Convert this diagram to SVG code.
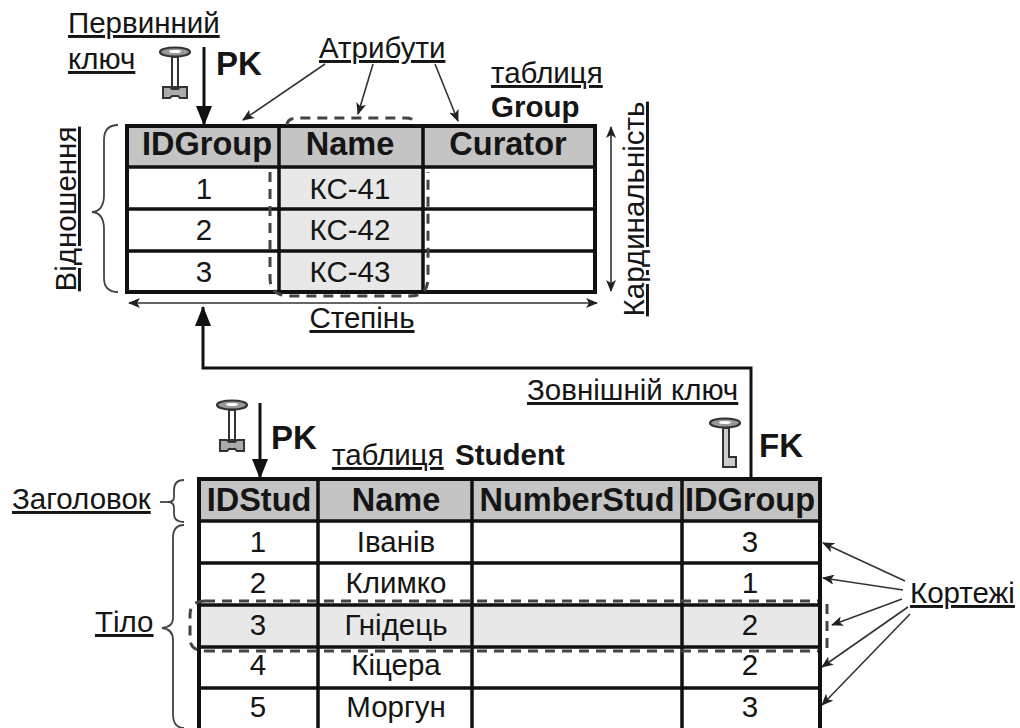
<svg xmlns="http://www.w3.org/2000/svg" width="1020" height="728" viewBox="0 0 1020 728">
<style>
text{font-family:"Liberation Sans",Arial,sans-serif;fill:#151515;font-size:29.5px}
.c{text-anchor:middle}
.b{font-weight:bold}
.h{font-weight:bold;font-size:32.5px;text-anchor:middle}
.pk{font-weight:bold;font-size:33px}
.u{text-decoration:underline}
.grid{fill:none;stroke:#111;stroke-width:3.5}
.outer{fill:none;stroke:#111;stroke-width:4}
.dash{fill:none;stroke:#444;stroke-width:3;stroke-dasharray:10 7}
.brace{fill:none;stroke:#444;stroke-width:1.8}
.arrow{fill:none;stroke:#333;stroke-width:1.6;marker-end:url(#open)}
.both{fill:none;stroke:#333;stroke-width:1.6;marker-end:url(#open);marker-start:url(#openS)}
.thick{fill:none;stroke:#111;stroke-width:3;marker-end:url(#solid)}
</style>
<defs>
<marker id="open" viewBox="0 0 12 10" refX="11" refY="5" markerWidth="12" markerHeight="10" markerUnits="userSpaceOnUse" orient="auto"><path d="M0 0L12 5L0 10L3 5Z" fill="#222"/></marker>
<marker id="openS" viewBox="0 0 12 10" refX="1" refY="5" markerWidth="12" markerHeight="10" markerUnits="userSpaceOnUse" orient="auto"><path d="M12 0L0 5L12 10L9 5Z" fill="#222"/></marker>
<marker id="solid" viewBox="0 0 20 16" refX="19" refY="8" markerWidth="20" markerHeight="16" markerUnits="userSpaceOnUse" orient="auto"><path d="M0 0L20 8L0 16Z" fill="#111"/></marker>
<symbol id="k1" viewBox="0 0 34 56" width="34" height="56" overflow="visible">
<ellipse cx="17" cy="6" rx="15" ry="4.5" fill="#999" stroke="#333" stroke-width="2.2"/>
<ellipse cx="17" cy="5.5" rx="6" ry="1.6" fill="#fff"/>
<path d="M14 11H20V41H14Z" fill="#fff" stroke="#333" stroke-width="2"/>
<path d="M5 41H12L14 43H20L22 41H29V52H22L20 50H14L12 52H5Z" fill="#aaa" stroke="#333" stroke-width="2"/>
</symbol>
</defs>

<g id="connectors">
<path class="thick" d="M204 47V125"/>
<path class="arrow" d="M325 64L243 120"/>
<path class="arrow" d="M373 64L358 114"/>
<path class="arrow" d="M435 64L458 121"/>
<path class="both" d="M611 127V291"/>
<path class="both" d="M129 303H597"/>
<path class="thick" d="M751 478V368H203V307"/>
<path class="thick" d="M260 403V478"/>
<path class="arrow" d="M905 581L823 543"/>
<path class="arrow" d="M903 590L823 578"/>
<path class="arrow" d="M902 599L832 625"/>
<path class="arrow" d="M908 607L822 667"/>
<path class="arrow" d="M910 614L822 705"/>
</g>

<g id="table-group">
<rect x="127" y="126" width="468" height="41" fill="#c4c4c4"/>
<rect x="279" y="167" width="144" height="125" fill="#e8e8e8"/>
<path class="grid" d="M127 167H595M127 209H595M127 251H595M279 126V292M423 126V292"/>
<rect class="outer" x="127" y="126" width="468" height="166"/>
<path class="dash" d="M270 172V278Q270 296 290 296H410Q428 296 428 278V172M287 125Q287 118 298 118H405Q416 118 416 125"/>
<text class="h" x="207" y="155">IDGroup</text>
<text class="h" x="350" y="155">Name</text>
<text class="h" x="508" y="155">Curator</text>
<text class="c" x="204" y="199">1</text><text class="c" x="350" y="199">КС-41</text>
<text class="c" x="204" y="240">2</text><text class="c" x="350" y="240">КС-42</text>
<text class="c" x="204" y="282">3</text><text class="c" x="350" y="282">КС-43</text>
</g>

<g id="table-student">
<rect x="199" y="479" width="621" height="42" fill="#c4c4c4"/>
<rect x="199" y="605" width="621" height="42" fill="#e8e8e8"/>
<path class="grid" d="M199 521H820M199 563H820M199 605H820M199 647H820M199 688H820M318 479V728M472 479V728M682 479V728"/>
<path class="outer" d="M199 728V479H820V728"/>
<path class="dash" d="M827 604V650"/>
<path class="dash" d="M205 601H818M205 651H818"/>
<path class="dash" d="M205 601Q190 601 190 615V638Q190 651 205 651"/>
<text class="h" x="259" y="511">IDStud</text>
<text class="h" x="396" y="511">Name</text>
<text class="h" x="577" y="511">NumberStud</text>
<text class="h" x="750" y="511">IDGroup</text>
<text class="c" x="258" y="552">1</text><text class="c" x="396" y="552">Іванів</text><text class="c" x="750" y="552">3</text>
<text class="c" x="258" y="593">2</text><text class="c" x="396" y="593">Климко</text><text class="c" x="750" y="593">1</text>
<text class="c" x="258" y="635">3</text><text class="c" x="396" y="635">Гнідець</text><text class="c" x="750" y="635">2</text>
<text class="c" x="258" y="675">4</text><text class="c" x="396" y="675">Кіцера</text><text class="c" x="750" y="675">2</text>
<text class="c" x="258" y="717">5</text><text class="c" x="396" y="717">Моргун</text><text class="c" x="750" y="717">3</text>
</g>

<g id="label-primary-key">
<text class="u" x="68" y="33">Первинний</text>
<text class="u" x="68" y="69">ключ</text>
<use href="#k1" x="158" y="46"/>
<text class="pk" x="216" y="75">PK</text>
</g>
<g id="label-attributes"><text class="u" x="319" y="58">Атрибути</text></g>
<g id="label-table-group">
<text class="u" x="491" y="83">таблиця</text>
<text class="b" x="491" y="117">Group</text>
</g>
<g id="label-relation">
<text class="u c" transform="translate(76 209) rotate(-90)">Відношення</text>
<path class="brace" d="M118 125Q104 125 104 140V195Q104 211 92 212Q104 213 104 229V278Q104 292 118 292"/>
</g>
<g id="label-cardinality"><text class="u c" transform="translate(644 209) rotate(-90)">Кардинальність</text></g>
<g id="label-degree"><text class="u c" x="362" y="328">Степінь</text></g>
<g id="label-foreign-key">
<text class="u" x="527" y="400">Зовнішній ключ</text>
<ellipse cx="725" cy="423" rx="15" ry="4.5" fill="#999" stroke="#333" stroke-width="2.2"/>
<ellipse cx="725" cy="422.5" rx="6" ry="1.6" fill="#fff"/>
<path d="M723 428V467H736V457H729V428Z" fill="#ccc" stroke="#333" stroke-width="2"/>
<text class="pk" x="759" y="457">FK</text>
</g>
<g id="label-pk-student">
<use href="#k1" x="215" y="399"/>
<text class="pk" x="271" y="449">PK</text>
</g>
<g id="label-table-student">
<text class="u" x="332" y="465">таблиця</text>
<text class="b" x="455" y="465">Student</text>
</g>
<g id="label-header">
<text class="u" x="12" y="509">Заголовок</text>
<path class="brace" d="M160 502H172"/>
<path class="brace" d="M184 480Q174 480 174 490V497Q174 502 168 502Q174 502 174 508V514Q174 522 184 522"/>
</g>
<g id="label-body">
<text class="u" x="95" y="632">Тіло</text>
<path class="brace" d="M184 525Q173 525 173 538V618Q173 627 162 628Q173 629 173 640V714Q173 728 184 728"/>
</g>
<g id="label-tuples"><text class="u" x="910" y="603">Кортежі</text></g>
</svg>
